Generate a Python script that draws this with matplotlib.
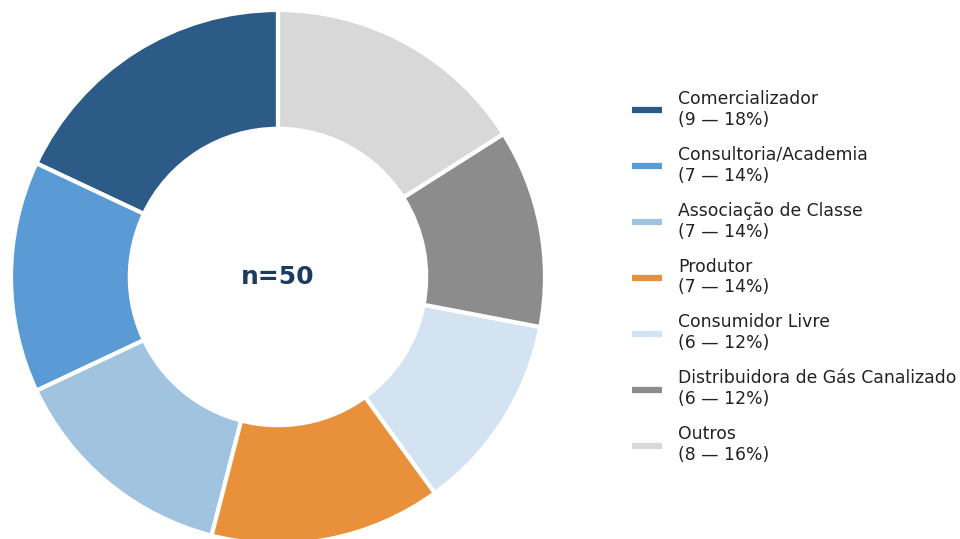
import matplotlib
matplotlib.use("Agg")
import matplotlib.pyplot as plt
from matplotlib.lines import Line2D

plt.rcParams["font.family"] = ["DejaVu Sans"]

categories = [
    "Comercializador",
    "Consultoria/Academia",
    "Associação de Classe",
    "Produtor",
    "Consumidor Livre",
    "Distribuidora de Gás Canalizado",
    "Outros",
]
counts = [9, 7, 7, 7, 6, 6, 8]
colors = ["#2c5b88", "#5b9bd5", "#a0c3e0", "#e8913a", "#d3e3f2", "#8c8c8c", "#d8d8d8"]

total = sum(counts)

fig = plt.figure(figsize=(9.6, 5.39), dpi=100)
ax = fig.add_axes([0, 0, 1, 1])

wedges, _ = ax.pie(
    counts,
    colors=colors,
    startangle=90,
    counterclock=True,
    radius=1.0,
    wedgeprops=dict(width=0.445, edgecolor="white", linewidth=3),
)

# place the ring so it fills the left part of the canvas
ax.set_xlim(-278 / 267, (960 - 278) / 267)
ax.set_ylim((277 - 539) / 267, 277 / 267)
ax.set_aspect("auto")
ax.axis("off")

ax.text(0, 0, f"n={total}", ha="center", va="center",
        fontsize=18, fontweight="bold", color="#1c3b60")

labels = [f"{c}\n({n} — {n / total * 100:.0f}%)" for c, n in zip(categories, counts)]
handles = [Line2D([0], [0], color=c, lw=4.5, solid_capstyle="butt") for c in colors]
fig.legend(
    handles, labels,
    loc="center left",
    bbox_to_anchor=(0.642, 0.486),
    frameon=False,
    fontsize=12.4,
    handlelength=1.74,
    handletextpad=0.93,
    labelspacing=0.99,
    labelcolor="#222222",
)

fig.savefig("out.png", dpi=100)
